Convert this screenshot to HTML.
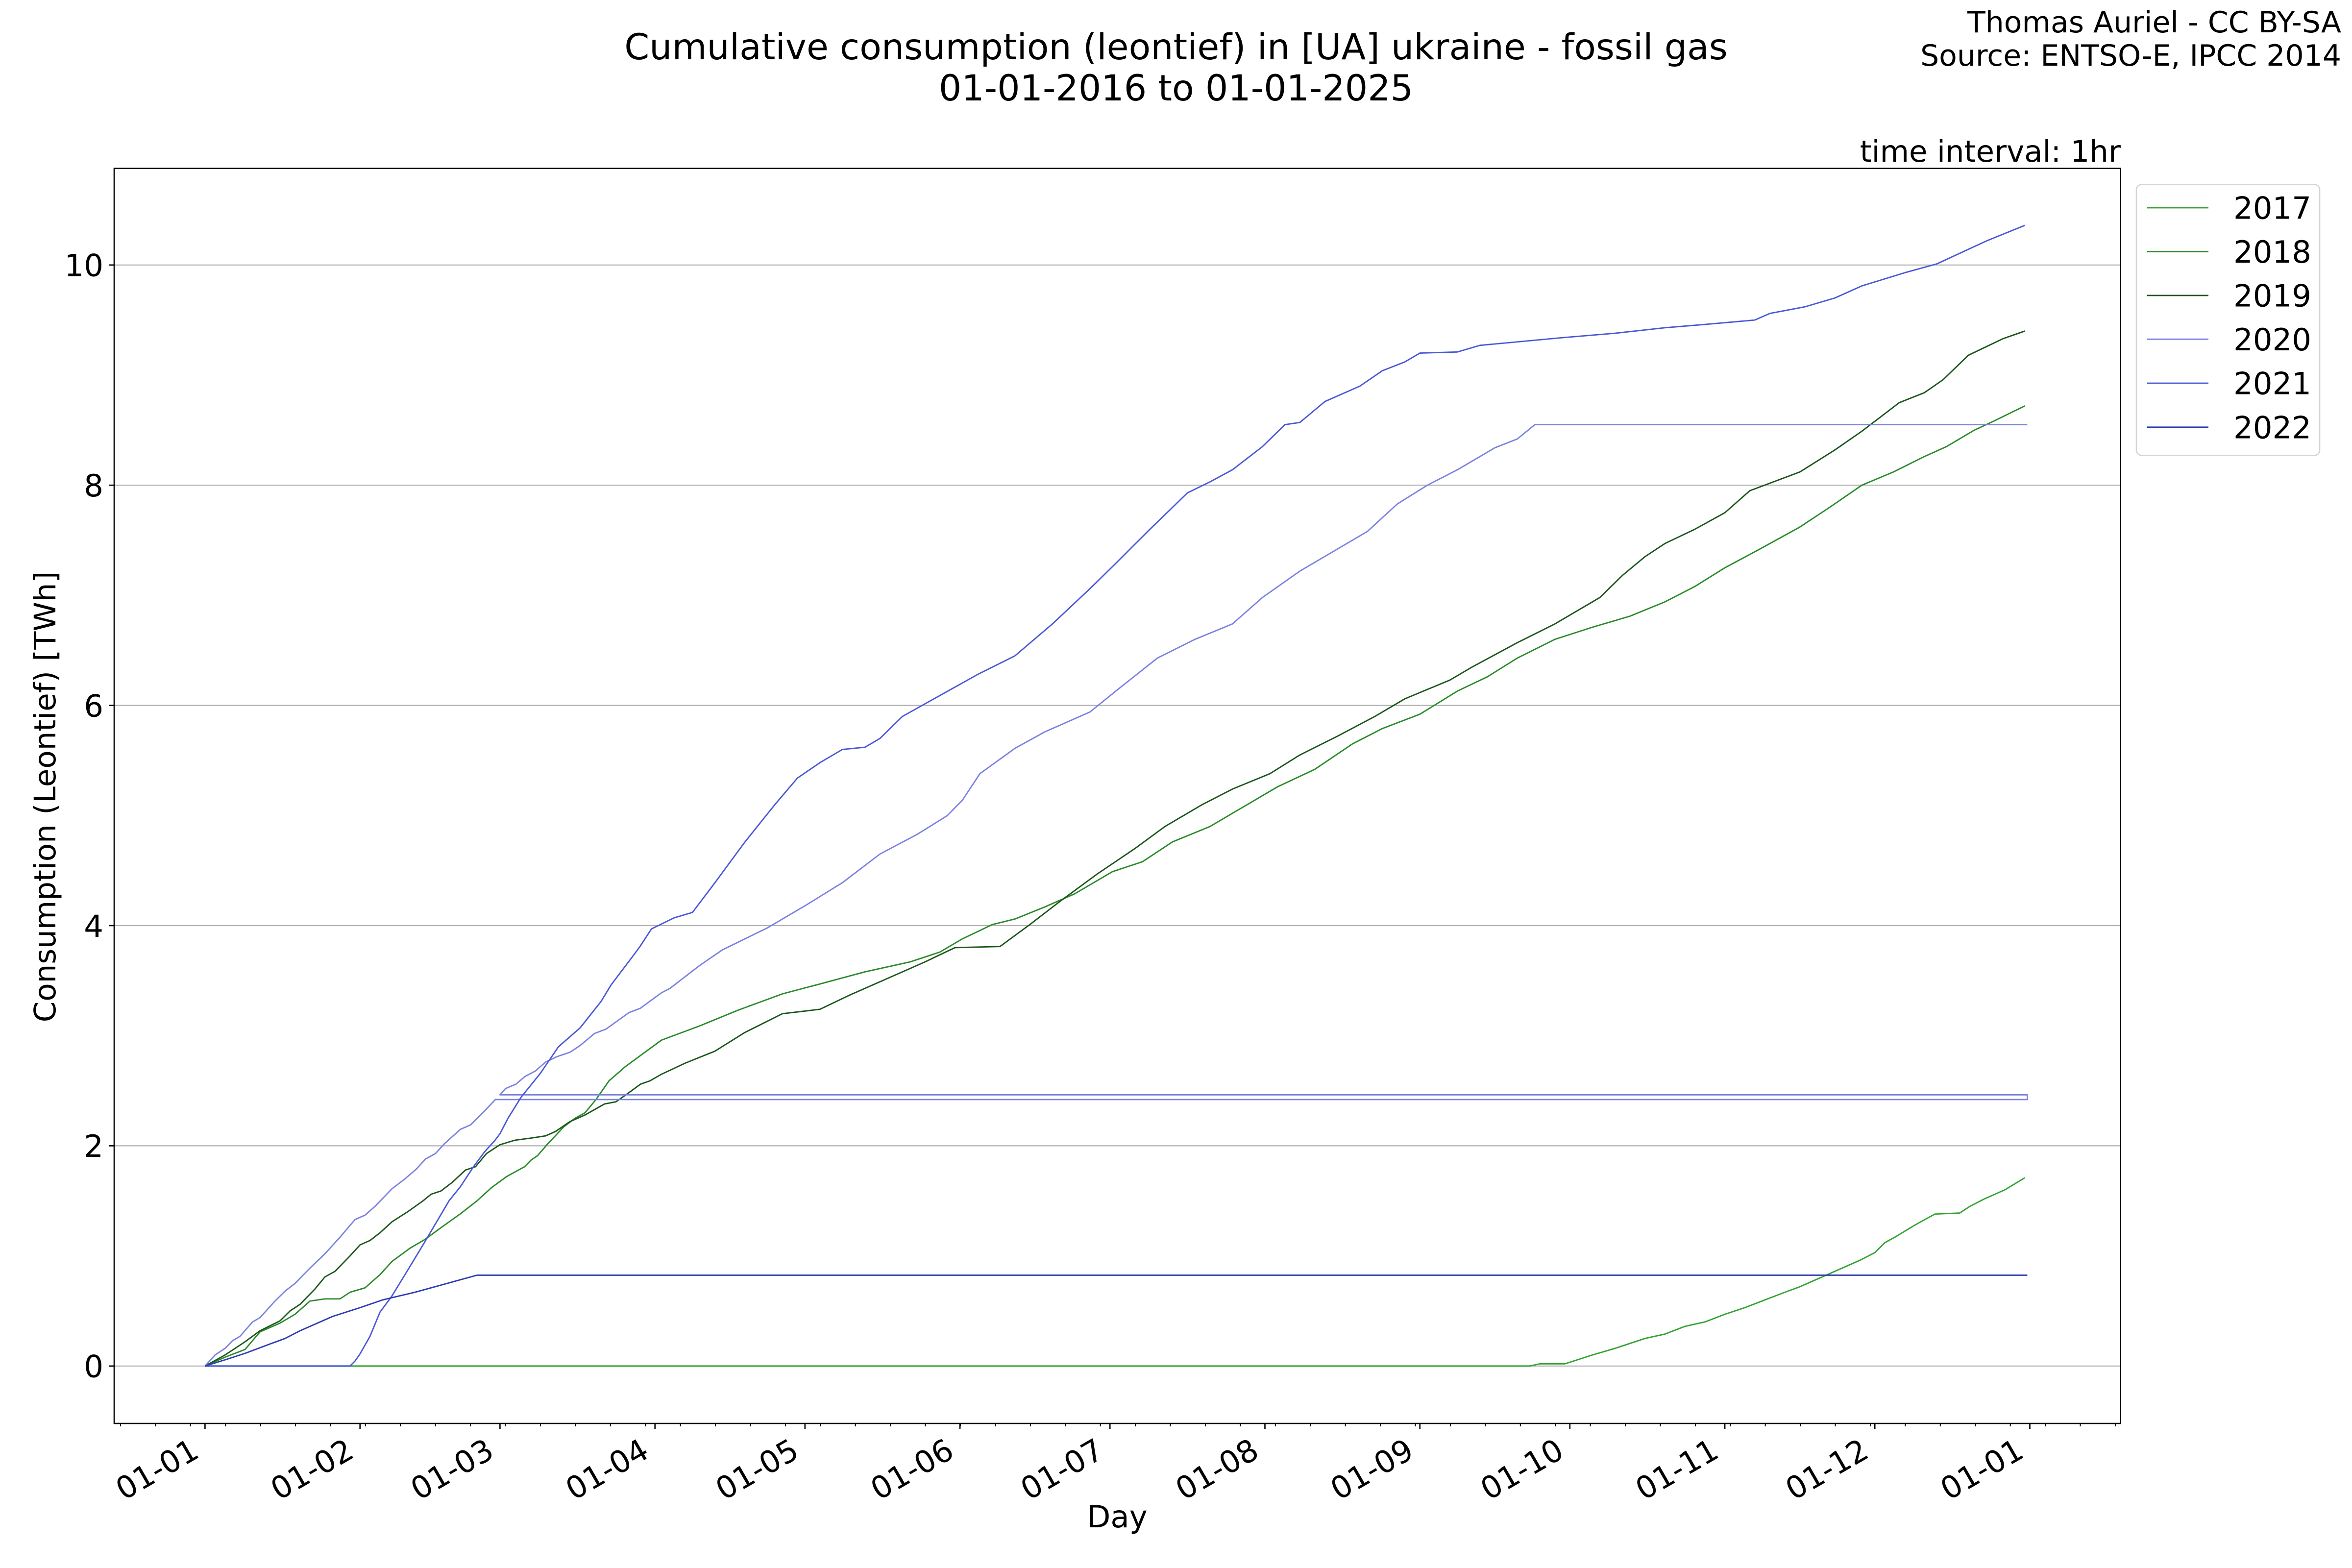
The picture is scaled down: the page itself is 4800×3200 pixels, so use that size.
<!DOCTYPE html>
<html><head><meta charset="utf-8"><style>
html,body{margin:0;padding:0;background:#fff;}
svg{display:block;}
text{font-family:"DejaVu Sans","Liberation Sans",sans-serif;fill:#000;}
</style></head><body>
<svg xmlns="http://www.w3.org/2000/svg" width="4800" height="3200" viewBox="0 0 4800 3200">
<rect width="4800" height="3200" fill="#fff"/>
<!-- titles -->
<text x="2400" y="121" font-size="73" text-anchor="middle">Cumulative consumption (leontief) in [UA] ukraine - fossil gas</text>
<text x="2400" y="205" font-size="73" text-anchor="middle">01-01-2016 to 01-01-2025</text>
<text x="4778" y="66" font-size="60" text-anchor="end">Thomas Auriel - CC BY-SA</text>
<text x="4778" y="134" font-size="60" text-anchor="end">Source: ENTSO-E, IPCC 2014</text>
<text x="4328" y="330" font-size="61" text-anchor="end">time interval: 1hr</text>

<!-- gridlines -->
<g stroke="#b0b0b0" stroke-width="2.2">
<line x1="233" x2="4327" y1="2787.8" y2="2787.8"/>
<line x1="233" x2="4327" y1="2338.4" y2="2338.4"/>
<line x1="233" x2="4327" y1="1889" y2="1889"/>
<line x1="233" x2="4327" y1="1439.6" y2="1439.6"/>
<line x1="233" x2="4327" y1="990.2" y2="990.2"/>
<line x1="233" x2="4327" y1="540.8" y2="540.8"/>
</g>

<!-- series -->
<g transform="translate(418.4,2787.8) scale(10.203,-224.7)" fill="none" stroke-width="2.8" stroke-linejoin="round" stroke-linecap="butt">
<polyline vector-effect="non-scaling-stroke" stroke="#33a333" points="0,0 265,0 267,0.02 272,0.02 277.5,0.1 282,0.16 288,0.25 292,0.29 296,0.36 300,0.40 304,0.47 308,0.53 312,0.60 316,0.67 319,0.72 323,0.80 327,0.88 331,0.96 334,1.03 336,1.12 338,1.17 342,1.28 346,1.38 351,1.39 353,1.45 356,1.52 360,1.60 364,1.71"/>
<polyline vector-effect="non-scaling-stroke" stroke="#2a8a2a" points="0,0 4,0.08 8,0.15 11,0.31 15,0.39 18,0.47 21,0.59 24,0.61 27,0.61 29,0.67 32,0.71 35,0.83 37.4,0.95 41,1.07 44,1.15 47,1.25 51,1.38 54.4,1.50 57.3,1.62 60.3,1.72 61.9,1.76 63.9,1.81 65.2,1.87 66.5,1.91 68.4,2.01 71.7,2.17 74,2.25 76,2.30 78.2,2.42 80.8,2.59 84.1,2.72 87.1,2.82 91.3,2.96 99,3.09 106.5,3.23 115.5,3.38 123,3.47 132,3.58 141,3.67 147,3.76 151.5,3.88 157.5,4.01 162,4.06 168,4.17 174,4.29 181.5,4.49 187.5,4.58 193.5,4.76 201,4.90 207,5.06 214.5,5.26 222,5.42 229.5,5.65 235.5,5.79 243,5.92 250.5,6.13 256.5,6.26 262.5,6.43 270,6.60 277.5,6.71 285,6.81 292,6.94 298,7.08 304,7.25 311,7.42 319,7.62 325,7.80 331.4,8.0 337.7,8.12 343.9,8.26 348.3,8.35 353.9,8.50 357.7,8.58 364,8.72"/>
<polyline vector-effect="non-scaling-stroke" stroke="#1b561b" points="0,0 4,0.10 8,0.22 11,0.32 15,0.41 17,0.50 19,0.56 22,0.70 24,0.81 26,0.86 29,1.0 31,1.10 33,1.14 35,1.21 37.4,1.31 40.5,1.40 43.6,1.50 45.2,1.56 47.2,1.59 49.5,1.67 52.1,1.78 54.1,1.81 56.3,1.93 59,2.01 61.9,2.05 65.2,2.07 68.1,2.09 70.1,2.13 73,2.22 76,2.28 79.9,2.38 82.2,2.40 84.4,2.47 87.1,2.56 89,2.59 91.3,2.65 96,2.75 102,2.86 108,3.03 115.5,3.20 123,3.24 129,3.37 136.5,3.52 144,3.67 150,3.80 159,3.81 165,4.01 171,4.22 178.5,4.47 186,4.70 192,4.90 199.5,5.10 205.5,5.24 213,5.38 219,5.55 226.5,5.72 234,5.90 240,6.06 249,6.23 253.5,6.35 262.5,6.57 270,6.74 279,6.98 283.5,7.18 288,7.35 292,7.47 298,7.60 304,7.75 309,7.95 319,8.12 326,8.32 331.4,8.49 338.9,8.75 343.9,8.84 347.7,8.96 352.7,9.18 359.6,9.33 364,9.40"/>
<polyline vector-effect="non-scaling-stroke" stroke="#7b82e0" points="0,0 2,0.10 4,0.16 5.5,0.23 7,0.27 9.5,0.40 11,0.44 14,0.59 16,0.68 18,0.75 21,0.89 24,1.02 27,1.17 30,1.33 32,1.37 34,1.45 37.4,1.61 40,1.70 42.3,1.79 44.1,1.88 46.1,1.93 47.9,2.02 51.1,2.15 53.1,2.19 56,2.32 58.05,2.42 364.5,2.42 364.5,2.463 59,2.463 60.1,2.52 62.2,2.56 64,2.63 66.1,2.68 68.1,2.76 70.4,2.81 73,2.85 75,2.91 77.9,3.02 80.2,3.06 84.8,3.21 87.1,3.25 91.3,3.39 93,3.43 99,3.64 103.5,3.78 112.5,3.98 120,4.18 127.5,4.39 135,4.65 142.5,4.83 148.5,5.0 151.5,5.14 155,5.38 162,5.61 168,5.76 177,5.94 183,6.16 190.5,6.43 198,6.60 205.5,6.74 211.5,6.98 219,7.22 226.5,7.42 232.5,7.58 238.5,7.83 244.5,8.0 250.5,8.14 258,8.34 262.5,8.42 266,8.55 364.5,8.55"/>
<polyline vector-effect="non-scaling-stroke" stroke="#4a58d6" points="0,0 29,0 30,0.045 31,0.11 33,0.27 35,0.49 37.3,0.63 40,0.83 44,1.13 48.8,1.50 51.1,1.63 53.7,1.81 56,1.95 58,2.05 59,2.11 60.6,2.25 63.2,2.44 67.1,2.66 70.7,2.90 75,3.07 79.2,3.31 81.2,3.46 85.7,3.73 87,3.81 89.3,3.97 93.8,4.07 97.5,4.12 102,4.39 108,4.76 114,5.10 118.5,5.34 123,5.48 127.5,5.60 132,5.62 135,5.70 139.5,5.90 147,6.09 154.5,6.28 162,6.45 169.5,6.74 177,7.06 181.5,7.26 189,7.60 196.5,7.93 201,8.03 205.5,8.14 211.5,8.35 216,8.55 219,8.57 224,8.76 231,8.90 235.5,9.04 240,9.12 243,9.20 250.5,9.21 255,9.27 271.5,9.34 282,9.38 292,9.43 300,9.46 310,9.50 313,9.56 320,9.62 326,9.70 331.4,9.81 340,9.93 346.4,10.01 356.4,10.22 364,10.36"/>
<polyline vector-effect="non-scaling-stroke" stroke="#2e3cb0" points="0,0 4,0.056 8,0.115 13,0.2 16,0.25 19,0.32 23,0.40 25.5,0.45 31,0.53 35.5,0.60 37.3,0.62 42,0.67 46,0.72 50,0.77 54.4,0.825 364.5,0.825"/>
</g>

<!-- axes frame -->
<rect x="233" y="343.7" width="4094.5" height="2561.3" fill="none" stroke="#000" stroke-width="2.6"/>

<!-- y ticks -->
<g stroke="#000" stroke-width="2.6">
<line x1="222.5" x2="233" y1="2787.8" y2="2787.8"/>
<line x1="222.5" x2="233" y1="2338.4" y2="2338.4"/>
<line x1="222.5" x2="233" y1="1889" y2="1889"/>
<line x1="222.5" x2="233" y1="1439.6" y2="1439.6"/>
<line x1="222.5" x2="233" y1="990.2" y2="990.2"/>
<line x1="222.5" x2="233" y1="540.8" y2="540.8"/>
</g>
<g font-size="62.5" text-anchor="end">
<text x="211" y="2810.6">0</text>
<text x="211" y="2361.2">2</text>
<text x="211" y="1911.8">4</text>
<text x="211" y="1462.4">6</text>
<text x="211" y="1013">8</text>
<text x="211" y="563.6">10</text>
</g>

<!-- x major ticks -->
<g stroke="#000" stroke-width="2.6">
<line x1="418.4" x2="418.4" y1="2905" y2="2916"/>
<line x1="734.7" x2="734.7" y1="2905" y2="2916"/>
<line x1="1020.4" x2="1020.4" y1="2905" y2="2916"/>
<line x1="1336.7" x2="1336.7" y1="2905" y2="2916"/>
<line x1="1642.8" x2="1642.8" y1="2905" y2="2916"/>
<line x1="1959.1" x2="1959.1" y1="2905" y2="2916"/>
<line x1="2265.2" x2="2265.2" y1="2905" y2="2916"/>
<line x1="2581.5" x2="2581.5" y1="2905" y2="2916"/>
<line x1="2897.7" x2="2897.7" y1="2905" y2="2916"/>
<line x1="3203.8" x2="3203.8" y1="2905" y2="2916"/>
<line x1="3520.1" x2="3520.1" y1="2905" y2="2916"/>
<line x1="3826.2" x2="3826.2" y1="2905" y2="2916"/>
<line x1="4142.5" x2="4142.5" y1="2905" y2="2916"/>
</g>
<!-- x minor ticks -->
<g stroke="#000" stroke-width="2">
<path d="M245.9 2905v6M317.3 2905v6M388.7 2905v6M460.2 2905v6M531.6 2905v6M603 2905v6M674.4 2905v6M745.8 2905v6M817.3 2905v6M888.7 2905v6M960.1 2905v6M1031.5 2905v6M1103 2905v6M1174.4 2905v6M1245.8 2905v6M1317.2 2905v6M1388.6 2905v6M1460.1 2905v6M1531.5 2905v6M1602.9 2905v6M1674.3 2905v6M1745.7 2905v6M1817.2 2905v6M1888.6 2905v6M1960 2905v6M2031.4 2905v6M2102.9 2905v6M2174.3 2905v6M2245.7 2905v6M2317.1 2905v6M2388.5 2905v6M2460 2905v6M2531.4 2905v6M2602.8 2905v6M2674.2 2905v6M2745.7 2905v6M2817.1 2905v6M2888.5 2905v6M2959.9 2905v6M3031.3 2905v6M3102.8 2905v6M3174.2 2905v6M3245.6 2905v6M3317 2905v6M3388.5 2905v6M3459.9 2905v6M3531.3 2905v6M3602.7 2905v6M3674.1 2905v6M3745.6 2905v6M3817 2905v6M3888.4 2905v6M3959.8 2905v6M4031.3 2905v6M4102.7 2905v6M4174.1 2905v6M4245.5 2905v6M4316.9 2905v6"/>
</g>

<!-- x tick labels -->
<g font-size="62.5" text-anchor="end">
<text transform="translate(410,2972) rotate(-30)">01-01</text>
<text transform="translate(726.3,2972) rotate(-30)">01-02</text>
<text transform="translate(1012,2972) rotate(-30)">01-03</text>
<text transform="translate(1328.3,2972) rotate(-30)">01-04</text>
<text transform="translate(1634.4,2972) rotate(-30)">01-05</text>
<text transform="translate(1950.7,2972) rotate(-30)">01-06</text>
<text transform="translate(2256.8,2972) rotate(-30)">01-07</text>
<text transform="translate(2573.1,2972) rotate(-30)">01-08</text>
<text transform="translate(2889.3,2972) rotate(-30)">01-09</text>
<text transform="translate(3195.4,2972) rotate(-30)">01-10</text>
<text transform="translate(3511.7,2972) rotate(-30)">01-11</text>
<text transform="translate(3817.8,2972) rotate(-30)">01-12</text>
<text transform="translate(4134.1,2972) rotate(-30)">01-01</text>
</g>

<!-- axis labels -->
<text x="2280" y="3117" font-size="62.5" text-anchor="middle">Day</text>
<text transform="translate(113,1626) rotate(-90)" font-size="61" text-anchor="middle">Consumption (Leontief) [TWh]</text>

<!-- legend -->
<rect x="4360" y="376.5" width="374" height="553" rx="11" ry="11" fill="#fff" fill-opacity="0.8" stroke="#d4d4d4" stroke-width="2.6"/>
<g stroke-width="2.8">
<line x1="4382" x2="4507" y1="424" y2="424" stroke="#33a333"/>
<line x1="4382" x2="4507" y1="513.5" y2="513.5" stroke="#2a8a2a"/>
<line x1="4382" x2="4507" y1="603" y2="603" stroke="#1b561b"/>
<line x1="4382" x2="4507" y1="692.3" y2="692.3" stroke="#7b82e0"/>
<line x1="4382" x2="4507" y1="782" y2="782" stroke="#4a58d6"/>
<line x1="4382" x2="4507" y1="871.8" y2="871.8" stroke="#2e3cb0"/>
</g>
<g font-size="62.5">
<text x="4558" y="446.5">2017</text>
<text x="4558" y="536">2018</text>
<text x="4558" y="625.5">2019</text>
<text x="4558" y="714.8">2020</text>
<text x="4558" y="804.5">2021</text>
<text x="4558" y="894.3">2022</text>
</g>
</svg>
</body></html>
